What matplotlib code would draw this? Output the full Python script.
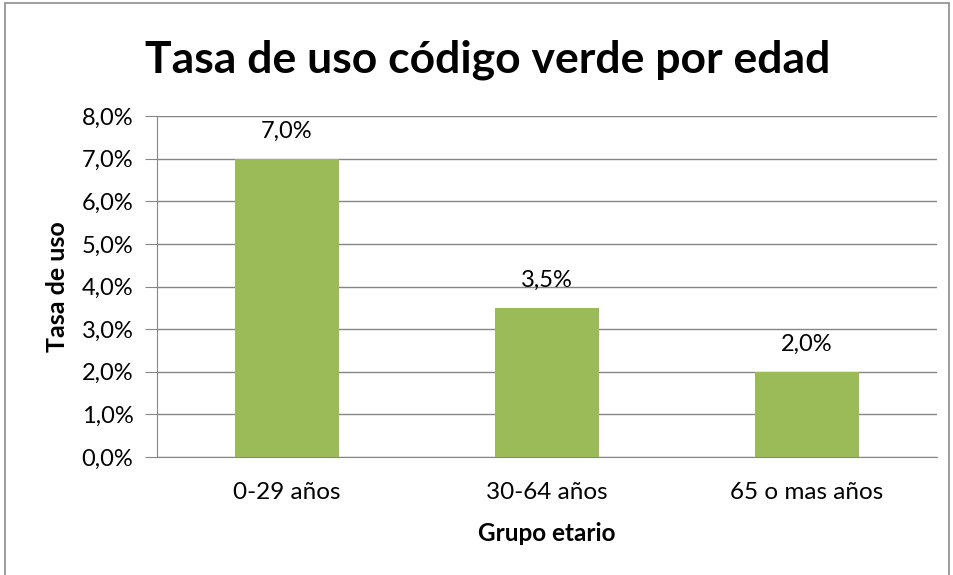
import matplotlib.pyplot as plt
from matplotlib.patches import Rectangle
from matplotlib.ticker import FuncFormatter

grupos = ['0-29 años', '30-64 años', '65 o mas años']
tasas = [7.0, 3.5, 2.0]
y_ticks = [0, 1, 2, 3, 4, 5, 6, 7, 8]

plt.rcParams['font.family'] = ['Lato', 'DejaVu Sans']

W, H = 954, 575
fig = plt.figure(figsize=(W / 100, H / 100), dpi=100)
ax = fig.add_axes([157 / W, 1 - 457 / H, (937 - 157) / W, (457 - 116) / H])

# marco del grafico
fig.patches.append(Rectangle((5 / W, -0.01), (949 - 5) / W, 1 - 3 / H + 0.01,
                             transform=fig.transFigure, fill=False,
                             edgecolor='#8c8c8c', linewidth=1.2))

x = range(len(grupos))
ax.bar(x, tasas, width=0.4, color='#9BBB59', zorder=3)
ax.set_xlim(-0.5, len(grupos) - 0.5)
ax.set_ylim(0, 8)
ax.set_yticks(y_ticks)
ax.yaxis.set_major_formatter(FuncFormatter(lambda v, p: f'{v:.1f}%'.replace('.', ',')))
ax.set_xticks(list(x))
ax.set_xticklabels(grupos)

ax.grid(axis='y', color='#868686', linewidth=1, zorder=0)
for s in ['top', 'right']:
    ax.spines[s].set_visible(False)
ax.spines['left'].set_color('#868686')
ax.spines['bottom'].set_color('#868686')
ax.tick_params(axis='y', length=9, color='#868686', labelsize=17, pad=8)
ax.tick_params(axis='x', length=0, labelsize=17.5, pad=18)

for i, v in enumerate(tasas):
    ax.annotate(f'{v:.1f}%'.replace('.', ','), (i, v), xytext=(0, 19.5),
                textcoords='offset points', ha='center', va='center', fontsize=17)

ax.set_ylabel('Tasa de uso', fontsize=18, fontweight='bold', labelpad=9)
ax.set_xlabel('Grupo etario', fontsize=17.5, fontweight='bold', labelpad=14)
fig.text(488 / W, 1 - 60 / H, 'Tasa de uso código verde por edad',
         ha='center', va='center', fontsize=32, fontweight='bold')

fig.savefig('out.png', dpi=100)
